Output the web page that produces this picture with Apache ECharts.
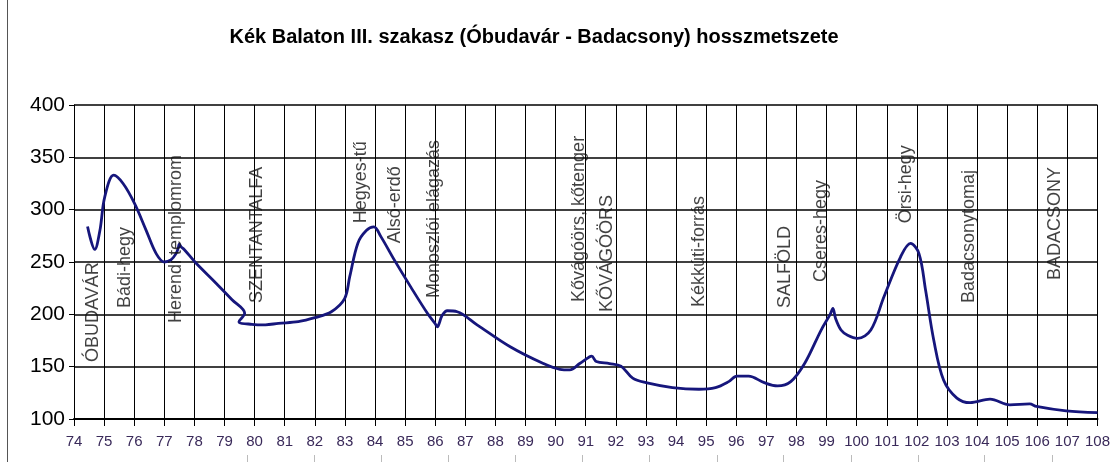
<!DOCTYPE html>
<html>
<head>
<meta charset="utf-8">
<script src="https://cdn.jsdelivr.net/npm/echarts@6/dist/echarts.min.js"></script>
<style>
html,body{margin:0;padding:0;background:#fff;}
#c{width:1113px;height:462px;}
</style>
</head>
<body>
<div id="c"></div>
<script>
// Elevation profile: distance (km) and altitude (m)
const distances = [74.45,74.69,74.86,75.02,75.32,75.63,76.01,76.40,76.73,77.0,77.22,77.39,77.46,77.50,77.56,77.66,78.05,78.71,79.25,79.67,79.48,79.91,80.36,80.79,81.45,82.0,82.55,82.99,83.16,83.43,83.71,83.96,84.20,84.64,85.19,85.74,86.0,86.07,86.14,86.22,86.40,86.73,87.39,88.49,89.59,90.14,90.47,90.80,91.13,91.2,91.35,91.79,92.17,92.56,93.0,93.88,94.76,95.31,95.75,96.02,96.41,96.93,97.37,97.81,98.27,98.82,99.12,99.21,99.30,99.48,99.70,100.03,100.47,100.91,101.46,101.79,102.07,102.29,102.56,102.89,103.33,103.77,104.43,105.09,105.75,105.97,106.96,108.0];
const altitudes = [284,262,280,312,333,325,306,280,258,250,252,258,263,267,264.5,262,249,230,214,201,193,190.5,190,191.4,193,196.8,202.5,215,236,268,280,283.6,274,252,226,201,191,188,192,198.5,203.4,202.5,190,169,153,147.5,147,153,159.5,160,155,153,150.5,139,134.7,130,128.4,130,135.7,141,141,134.7,131.6,135.7,153,185,200,205.7,196,185,180,177,185,217,255,267.7,258,223,175.5,137,120,115.6,119,113.5,114.4,112,107.7,106];

const placeNames = ["ÓBUDAVÁR","Bádi-hegy","Herendi templomrom","SZENTANTALFA","Hegyes-tű","Alsó-erdő","Monoszlói elágazás","Kővágóörs, kőtenger","KŐVÁGÓÖRS","Kékkúti-forrás","SALFÖLD","Cseres-hegy","Örsi-hegy","Badacsonytomaj","BADACSONY"];
const placeKm = [74.63,75.68,77.40,80.07,83.53,84.65,85.97,90.79,91.71,94.75,97.61,98.83,101.64,103.72,106.59];
const placeLabelBase = [154.5,206,191.7,210.8,287,268,215.6,211.8,202.2,207,206,230.8,287,210.8,232.7];

const titleText = "Kék Balaton III. szakasz (Óbudavár - Badacsony) hosszmetszete";

const chart = echarts.init(document.getElementById('c'));
const lineData = distances.map((d,i)=>[d, altitudes[i]]);
const placeData = placeNames.map((n,i)=>({name:n, value:[placeKm[i], placeLabelBase[i]]}));

const rulerX = [247,314,381,448,515,582,649,717,783,851,918,984,1052];
const graphics = [{type:'line', shape:{x1:7.5,y1:0,x2:7.5,y2:462}, style:{stroke:'#555',lineWidth:1}}];
rulerX.forEach(x=>graphics.push({type:'line', shape:{x1:x+0.5,y1:455,x2:x+0.5,y2:462}, style:{stroke:'#bbb',lineWidth:1}}));

chart.setOption({
  animation:false,
  backgroundColor:'#fff',
  title:{text:titleText, left:529, textAlign:'center', top:22,
    textStyle:{fontFamily:'"Liberation Sans",Arial,sans-serif', fontWeight:'bold', fontSize:20, color:'#000'}},
  graphic: graphics,
  grid:{left:74, right:8, top:105, bottom:43},
  xAxis:{type:'value', min:74, max:108, interval:1,
    axisLine:{show:true, lineStyle:{color:'#000', width:2}},
    axisTick:{show:true, length:7, lineStyle:{color:'#000'}},
    axisLabel:{fontFamily:'"Liberation Sans",Arial,sans-serif', fontSize:15, color:'#3a2a5a', margin:15},
    splitLine:{show:true, lineStyle:{color:'#000', width:1}}},
  yAxis:{type:'value', min:100, max:400, interval:50,
    axisLine:{show:true, lineStyle:{color:'#000', width:1}},
    axisTick:{show:true, length:5, lineStyle:{color:'#000'}},
    axisLabel:{fontFamily:'"Liberation Sans",Arial,sans-serif', fontSize:21, color:'#000', margin:9},
    splitLine:{show:true, lineStyle:{color:'#000', width:1.5}}},
  series:[
    {type:'line', data:lineData, smooth:0.35, showSymbol:false, symbol:'none',
     lineStyle:{color:'#16167c', width:2.8}, z:5},
    {type:'scatter', data:placeData, symbolSize:0, z:6,
     label:{show:true, formatter:p=>p.name, rotate:90, position:[0,0], align:'left', verticalAlign:'middle',
       fontFamily:'"Liberation Sans",Arial,sans-serif', fontSize:18, color:'#111'}}
  ]
});
</script>
</body>
</html>
